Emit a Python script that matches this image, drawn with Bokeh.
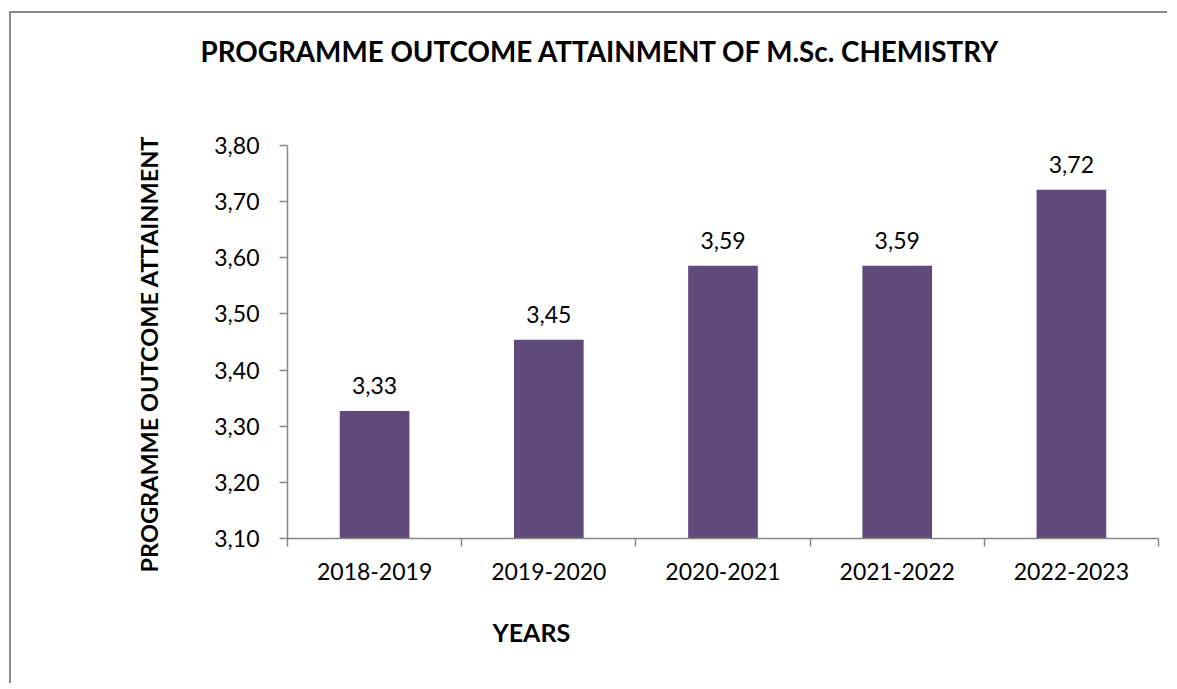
from bokeh.plotting import figure
from bokeh.models import (ColumnDataSource, FixedTicker, CustomJSTickFormatter,
                          Range1d, LabelSet, Title, LinearAxis)
from bokeh.core.properties import value
from bokeh.embed import file_html
from bokeh.resources import INLINE

categories = ["2018-2019", "2019-2020", "2020-2021", "2021-2022", "2022-2023"]
values = [3.327, 3.454, 3.586, 3.586, 3.721]
y_ticks = [3.1, 3.2, 3.3, 3.4, 3.5, 3.6, 3.7, 3.8]

FONT = "Lato"
BAR = "#604A7B"
AXIS = "#868686"

xs = [i + 0.5 for i in range(len(categories))]
labels = [f"{v:.2f}".replace(".", ",") for v in values]
src = ColumnDataSource(dict(x=xs, top=values, label=labels))

W, H = 1158, 672
p = figure(width=W, height=H, output_backend="svg", toolbar_location=None,
           x_range=Range1d(0, len(categories)), y_range=Range1d(3.1, 3.8),
           min_border_left=276, min_border_right=11, min_border_top=132,
           min_border_bottom=147)
p.styles = {"border-top": "2px solid #8a8a8a", "border-left": "2px solid #8a8a8a",
            "margin-left": "9px", "margin-top": "11px"}
p.outline_line_color = None
p.grid.grid_line_color = None
p.background_fill_color = "white"
p.border_fill_color = "white"

p.vbar(x="x", top="top", bottom=3.1, width=0.4, source=src,
       fill_color=BAR, line_color=None)

ls = LabelSet(x="x", y="top", text="label", source=src, y_offset=17,
              text_align="center", text_baseline="alphabetic",
              text_font=value(FONT), text_font_size="23px", text_color="black")
p.add_layout(ls)

# axes
ya = p.yaxis[0]
ya.ticker = FixedTicker(ticks=y_ticks)
ya.formatter = CustomJSTickFormatter(code="return tick.toFixed(2).replace('.', ',');")
ya.axis_line_color = AXIS
ya.axis_line_width = 1.5
ya.major_tick_line_color = AXIS
ya.major_tick_line_width = 1.5
ya.major_tick_out = 8
ya.major_tick_in = 0
ya.minor_tick_line_color = None
ya.major_label_text_font = FONT
ya.major_label_text_font_size = "23px"
ya.major_label_text_color = "black"
ya.major_label_standoff = 20

xa = p.xaxis[0]
xa.ticker = FixedTicker(ticks=xs, minor_ticks=list(range(len(categories) + 1)))
xa.major_label_overrides = {x: c for x, c in zip(xs, categories)}
xa.axis_line_color = AXIS
xa.axis_line_width = 1.5
xa.major_tick_line_color = None
xa.minor_tick_line_color = AXIS
xa.minor_tick_line_width = 1.5
xa.minor_tick_out = 8
xa.minor_tick_in = 0
xa.major_label_text_font = FONT
xa.major_label_text_font_size = "23px"
xa.major_label_text_color = "black"
xa.major_label_standoff = 16

# invisible spacer between frame and title
spacer = LinearAxis(ticker=FixedTicker(ticks=[0]), major_label_overrides={0: ""},
                    axis_line_color=None, major_tick_line_color=None,
                    minor_tick_line_color=None, major_tick_out=73, major_tick_in=0,
                    minor_tick_out=0, minor_tick_in=0, major_label_standoff=0)
p.add_layout(spacer, "above")

p.title.text = ""
main_title = Title(text="PROGRAMME OUTCOME ATTAINMENT OF M.Sc. CHEMISTRY",
                   align="left", offset=-87, vertical_align="bottom", standoff=10,
                   text_font=FONT, text_font_style="bold", text_font_size="27.8px",
                   text_color="black")
p.add_layout(main_title, "above")

ytitle = Title(text="PROGRAMME OUTCOME ATTAINMENT", align="left", offset=-34,
               vertical_align="bottom", standoff=98, text_font=FONT,
               text_font_style="bold", text_font_size="23.5px", text_color="black")
p.add_layout(ytitle, "left")

xtitle = Title(text="YEARS", align="left", offset=205, vertical_align="top",
               standoff=68, text_font=FONT, text_font_style="bold",
               text_font_size="25px", text_color="black")
p.add_layout(xtitle, "below")

open("out.html", "w").write(file_html(p, INLINE))
